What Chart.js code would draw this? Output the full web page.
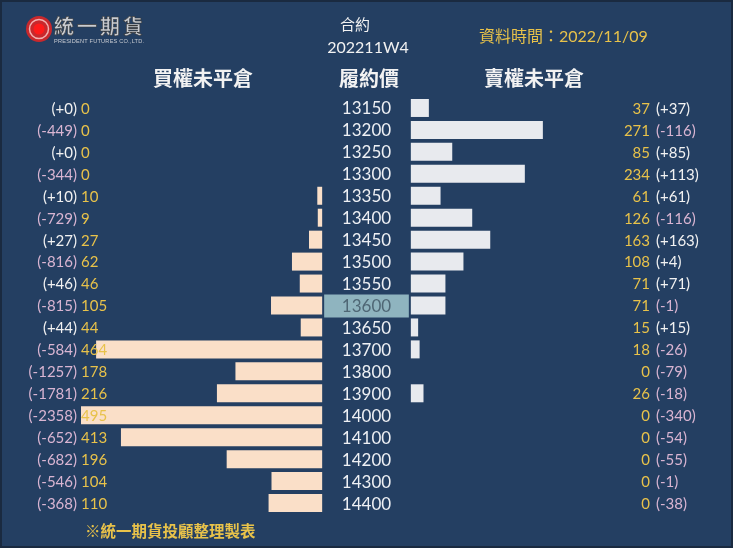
<!DOCTYPE html>
<html>
<head>
<meta charset="utf-8">
<script src="https://cdn.jsdelivr.net/npm/chart.js@4/dist/chart.umd.min.js"></script>
<style>
  body { margin: 0; background: #fff; }
  #wrap { position: relative; width: 733px; height: 548px; background: #243f62; box-sizing: border-box; border: 2px solid #1a2a40; overflow: hidden; font-family: "Noto Sans CJK TC", sans-serif; }
  #grafico { position: absolute; left: -2px; top: -2px; }
  .txt { position: absolute; white-space: nowrap; line-height: 1; }
</style>
</head>
<body>
<div id="wrap">
  <canvas id="grafico" width="733" height="548"></canvas>
  <svg class="txt" style="left:22px;top:12px" width="140" height="34">
    <circle cx="15" cy="15" r="13" fill="#c8282c"/>
    <circle cx="15" cy="15" r="9.5" fill="none" stroke="#f3b0b0" stroke-width="1.5"/>
    <circle cx="15" cy="15" r="5.5" fill="#ff1a1a"/>
    <text x="30" y="20" font-family="Noto Sans CJK TC" font-weight="bold" font-size="20" fill="#c9ccd2" stroke="#3a3a3a" stroke-width="0.6" letter-spacing="3">統一期貨</text>
    <text x="30" y="29" font-family="Liberation Sans" font-size="5.6" fill="#c9ccd2" textLength="90">PRESIDENT FUTURES CO.,LTD.</text>
  </svg>
  <div class="txt" style="left:353px;top:14px;transform:translateX(-50%);color:#f2f2f2;font-size:15px">合約</div>
  <div class="txt" style="left:366px;top:37px;transform:translateX(-50%);color:#f2f2f2;font-size:16px;font-family:Lato">202211W4</div>
  <div class="txt" style="left:477px;top:25px;color:#e8c24a;font-size:16px">資料時間：<span style="font-family:Lato">2022/11/09</span></div>
  <div class="txt" style="left:201px;top:66px;transform:translateX(-50%);color:#f2f2f2;font-size:20px;font-weight:bold">買權未平倉</div>
  <div class="txt" style="left:367px;top:66px;transform:translateX(-50%);color:#f2f2f2;font-size:20px;font-weight:bold">履約價</div>
  <div class="txt" style="left:532px;top:66px;transform:translateX(-50%);color:#f2f2f2;font-size:20px;font-weight:bold">賣權未平倉</div>
  <div class="txt" style="left:83px;top:521px;color:#e8c24a;font-size:15.5px;font-weight:bold">※統一期貨投顧整理製表</div>
</div>
<script>
// 履約價
const strikes = ['13150', '13200', '13250', '13300', '13350', '13400', '13450', '13500', '13550', '13600',
  '13650', '13700', '13800', '13900', '14000', '14100', '14200', '14300', '14400']
// 買權未平倉 與 增減
const callOI = [0, 0, 0, 0, 10, 9, 27, 62, 46, 105, 44, 464, 178, 216, 495, 413, 196, 104, 110]
const callChg = [0, -449, 0, -344, 10, -729, 27, -816, 46, -815, 44, -584, -1257, -1781, -2358, -652, -682, -546, -368]
// 賣權未平倉 與 增減
const putOI = [37, 271, 85, 234, 61, 126, 163, 108, 71, 71, 15, 18, 0, 26, 0, 0, 0, 0, 0]
const putChg = [37, -116, 85, 113, 61, -116, 163, 4, 71, -1, 15, -26, -79, -18, -340, -54, -55, -1, -38]
const atmStrike = '13600'

// 中間留給履約價的空間（數值單位）
const GAP = 91
const XMAX = 586

const gold = '#e8c24a'
const numFont = '15px Lato'

function chgText(v) { return '(' + (v >= 0 ? '+' : '') + v + ')' }

// 標籤外掛
const labelsPlugin = {
  id: 'labels',
  beforeDatasetsDraw(chart) {
    const ctx = chart.ctx, x = chart.scales.x, y = chart.scales.y
    const i = strikes.indexOf(atmStrike)
    const yc = y.getPixelForValue(i)
    ctx.save()
    ctx.fillStyle = '#8fb4bf'
    ctx.fillRect(x.getPixelForValue(-GAP) + 2, yc - 11, x.getPixelForValue(GAP) - x.getPixelForValue(-GAP) - 4, 23)
    ctx.restore()
  },
  afterDatasetsDraw(chart) {
    const ctx = chart.ctx, x = chart.scales.x, y = chart.scales.y
    const area = chart.chartArea
    ctx.save()
    ctx.textBaseline = 'middle'
    strikes.forEach((s, i) => {
      const yc = y.getPixelForValue(i) + 1
      // 履約價
      ctx.font = '17px Lato'
      ctx.textAlign = 'center'
      ctx.fillStyle = s === atmStrike ? '#4f6775' : '#eef0f4'
      ctx.fillText(s, x.getPixelForValue(0), yc)
      ctx.font = numFont
      // 左側
      ctx.textAlign = 'right'
      ctx.fillStyle = callChg[i] >= 0 ? '#f2f2f2' : '#d9b5d2'
      ctx.fillText(chgText(callChg[i]), area.left - 4, yc)
      ctx.textAlign = 'left'
      ctx.fillStyle = gold
      ctx.fillText(callOI[i], area.left, yc)
      // 右側
      ctx.textAlign = 'right'
      ctx.fillStyle = gold
      ctx.fillText(putOI[i], area.right - 2, yc)
      ctx.textAlign = 'left'
      ctx.fillStyle = putChg[i] >= 0 ? '#f2f2f2' : '#d9b5d2'
      ctx.fillText(chgText(putChg[i]), area.right + 4, yc)
    })
    ctx.restore()
  }
}

let ctx = document.querySelector('#grafico').getContext('2d')
let barChart = new Chart(ctx, {
  type: 'bar',
  data: {
    labels: strikes,
    datasets: [{
      label: '買權未平倉',
      backgroundColor: '#fadfc8',
      borderWidth: 0,
      data: callOI.map(v => [-GAP - v, -GAP])
    },
    {
      label: '賣權未平倉',
      backgroundColor: '#e8eaee',
      borderWidth: 0,
      data: putOI.map(v => [GAP, GAP + v])
    }]
  },
  options: {
    indexAxis: 'y',
    responsive: false,
    animation: false,
    layout: { padding: { left: 81, right: 81, top: 97, bottom: 34 } },
    datasets: { bar: { grouped: false, barPercentage: 0.82, categoryPercentage: 1 } },
    scales: {
      x: { display: false, min: -XMAX, max: XMAX },
      y: { display: false }
    },
    plugins: { legend: { display: false }, tooltip: { enabled: false } }
  },
  plugins: [labelsPlugin]
})
</script>
</body>
</html>
